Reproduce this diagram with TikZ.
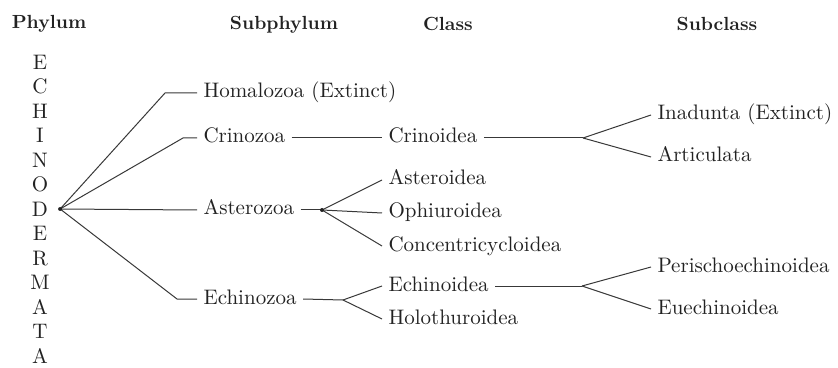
\documentclass[tikz,border=0pt]{standalone}
\usetikzlibrary{positioning,calc}
\definecolor{ink}{HTML}{222222}

\begin{document}
\begin{tikzpicture}[x=.5pt,y=-.5pt,line width=.5pt,
  head/.style={font=\fontsize{9.5}{11}\selectfont\bfseries, text=ink, anchor=base, inner sep=0pt},
  taxon/.style={font=\fontsize{10.5}{12}\selectfont, text=ink, anchor=west, inner xsep=3pt, inner ysep=0pt, text height=7pt, text depth=2pt},
  link/.style={draw=ink!90}]

\useasboundingbox (0,0) rectangle (838,368);

% Headers
\node[head] (hphy) at (49,29) {Phylum};
\node[head] (hsub) at (284,30) {Subphylum};
\node[head] (hcls) at (448,31) {Class};
\node[head] (hscl) at (717,31) {Subclass};

% Phylum, one letter per line
\node[font=\fontsize{10.5}{12.25}\selectfont, text=ink, align=center, inner xsep=4pt, inner ysep=0pt] (phylum) at (40,209)
  {E\\C\\H\\I\\N\\O\\D\\E\\R\\M\\A\\T\\A};
\coordinate (root) at ([xshift=1pt]phylum.east);

% Subphyla
\node[taxon] (homa) at (197,93) {Homalozoa (Extinct)};
\node[taxon] (crin) at (197,138) {Crinozoa};
\node[taxon] (aster) at (197,210) {Asterozoa};
\node[taxon] (echz) at (197,299) {Echinozoa};

% Classes
\node[taxon] (crinoid) at (382,138) {Crinoidea};
\node[taxon] (asteroid) at (382,180) {Asteroidea};
\node[taxon] (ophiu) at (382,213) {Ophiuroidea};
\node[taxon] (concen) at (382,246) {Concentricycloidea};
\node[taxon] (echinoid) at (382,286) {Echinoidea};
\node[taxon] (holo) at (382,319) {Holothuroidea};

% Subclasses
\node[taxon] (inad) at (651,115) {Inadunta (Extinct)};
\node[taxon] (artic) at (651,157) {Articulata};
\node[taxon] (peri) at (651,267) {Perischoechinoidea};
\node[taxon] (euech) at (651,309) {Euechinoidea};

% Branch points
\coordinate (astb) at (322,210);
\coordinate (echb) at (343,300);
\coordinate (crib) at (583,138);
\coordinate (echib) at (582,286);

% Phylum to subphyla
\draw[link] (root) -- ([xshift=-16pt]homa.west) -- (homa.west);
\draw[link] (root) -- ([xshift=-7pt]crin.west) -- (crin.west);
\draw[link] (root) -- (aster.west);
\draw[link] (root) -- ([xshift=-10pt]echz.west) -- (echz.west);
\fill[ink] (root) circle (1pt);

% Subphyla to classes
\draw[link] (crin) -- (crinoid);
\draw[link] (aster.east) -- (astb);
\draw[link] (astb) -- (asteroid.west);
\draw[link] (astb) -- (ophiu.west);
\draw[link] (astb) -- (concen.west);
\fill[ink] (astb) circle (1pt);
\draw[link] (echz.east) -- (echb);
\draw[link] (echb) -- (echinoid.west);
\draw[link] (echb) -- (holo.west);

% Classes to subclasses
\draw[link] (crinoid.east) -- (crib);
\draw[link] (crib) -- (inad.west);
\draw[link] (crib) -- (artic.west);
\draw[link] (echinoid.east) -- (echib);
\draw[link] (echib) -- (peri.west);
\draw[link] (echib) -- (euech.west);

\end{tikzpicture}
\end{document}
